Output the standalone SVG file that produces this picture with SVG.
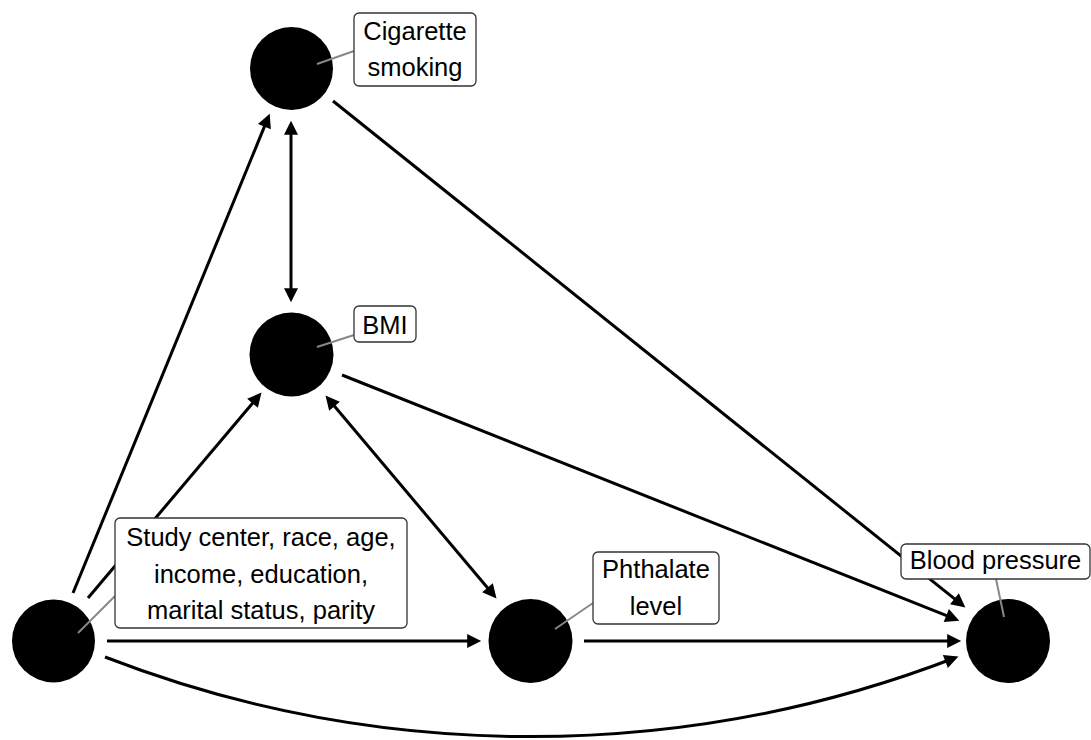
<svg xmlns="http://www.w3.org/2000/svg" width="1091" height="740" viewBox="0 0 1091 740">
<style>
.node{fill:#000}
.edge{fill:none;stroke:#000;stroke-width:3}
.lab{fill:#fff;stroke:#333;stroke-width:1.3}
.lead{stroke:#888;stroke-width:2}
text{font-family:"Liberation Sans",Arial,sans-serif;font-size:25.5px;fill:#000;text-anchor:middle}
</style>
<defs>
<marker id="ah" viewBox="0 0 10 10" markerUnits="userSpaceOnUse" markerWidth="17" markerHeight="14" refX="7" refY="5" orient="auto-start-reverse">
<path d="M0,0 L10,5 L0,10 z" fill="#000"/>
</marker>
</defs>
<rect width="1091" height="740" fill="#fff"/>
<g id="connectors">
<line class="edge" x1="73" y1="593" x2="268.1" y2="117.6" marker-end="url(#ah)"/>
<line class="edge" x1="88" y1="598" x2="258.8" y2="395.8" marker-end="url(#ah)"/>
<line class="edge" x1="291" y1="125" x2="291" y2="298" marker-start="url(#ah)" marker-end="url(#ah)"/>
<line class="edge" x1="328.2" y1="398.8" x2="493.8" y2="595.2" marker-start="url(#ah)" marker-end="url(#ah)"/>
<line class="edge" x1="107" y1="641" x2="477" y2="641" marker-end="url(#ah)"/>
<line class="edge" x1="584" y1="641" x2="957" y2="641" marker-end="url(#ah)"/>
<path class="edge" d="M105,657 A1180,1180 0 0 0 954.5,658" marker-end="url(#ah)"/>
<line class="edge" x1="333" y1="101" x2="962.1" y2="604.9" marker-end="url(#ah)"/>
<line class="edge" x1="342" y1="375" x2="955.4" y2="619.2" marker-end="url(#ah)"/>
</g>
<g id="node-cigarette">
<circle class="node" cx="291.5" cy="68.5" r="41.5"/>
<line class="lead" x1="317" y1="64" x2="354" y2="51"/>
<rect class="lab" x="354" y="13" width="122" height="73" rx="5"/>
<text x="415" y="40">Cigarette</text>
<text x="415" y="76">smoking</text>
</g>
<g id="node-bmi">
<circle class="node" cx="291.5" cy="354.5" r="42"/>
<line class="lead" x1="317" y1="347" x2="354" y2="335"/>
<rect class="lab" x="354" y="306" width="62" height="36" rx="5"/>
<text x="385" y="334">BMI</text>
</g>
<g id="node-confounders">
<circle class="node" cx="53.5" cy="641" r="41.5"/>
<line class="lead" x1="78" y1="633" x2="115" y2="596"/>
<rect class="lab" x="115" y="518" width="292" height="110" rx="5"/>
<text x="261" y="546">Study center, race, age,</text>
<text x="261" y="582.5">income, education,</text>
<text x="261" y="619">marital status, parity</text>
</g>
<g id="node-phthalate">
<circle class="node" cx="530.5" cy="641" r="42"/>
<line class="lead" x1="555" y1="629" x2="593" y2="603"/>
<rect class="lab" x="593" y="552" width="126" height="72" rx="5"/>
<text x="656" y="578">Phthalate</text>
<text x="656" y="615">level</text>
</g>
<g id="node-bp">
<circle class="node" cx="1008" cy="641" r="42"/>
<line class="lead" x1="1004" y1="617" x2="996" y2="579"/>
<rect class="lab" x="901" y="544" width="189" height="35" rx="5"/>
<text x="995.5" y="569">Blood pressure</text>
</g>
</svg>
